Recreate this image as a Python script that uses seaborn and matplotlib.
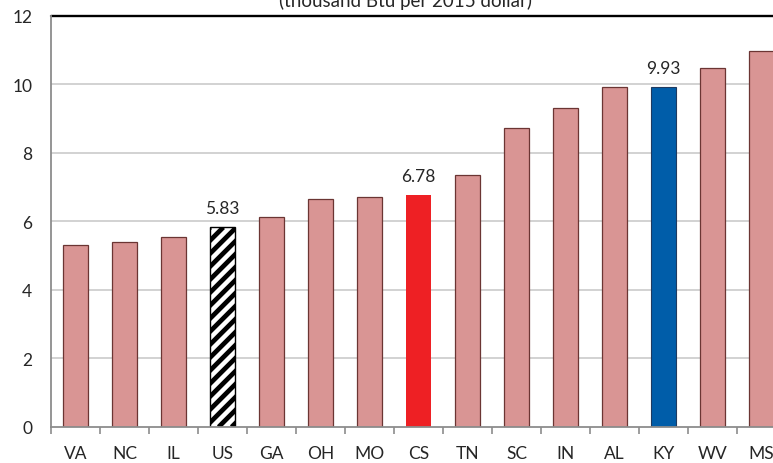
import matplotlib
matplotlib.use("Agg")
import matplotlib.pyplot as plt
from matplotlib.collections import LineCollection
from matplotlib.transforms import IdentityTransform
import seaborn as sns
import numpy as np

states = ["VA", "NC", "IL", "US", "GA", "OH", "MO", "CS", "TN", "SC", "IN", "AL", "KY", "WV", "MS"]
intensity = [5.31, 5.40, 5.55, 5.83, 6.13, 6.65, 6.71, 6.78, 7.36, 8.73, 9.31, 9.92, 9.93, 10.47, 10.98]
labeled = {"US": 5.83, "CS": 6.78, "KY": 9.93}
y_ticks = [0, 2, 4, 6, 8, 10, 12]

PINK = "#D99594"
face = {s: PINK for s in states}
face["US"] = "white"
face["CS"] = "#EE2024"
face["KY"] = "#005DA9"

sns.set_theme(style="white")
plt.rcParams["font.family"] = ["Lato", "DejaVu Sans"]

DPI = 100
fig = plt.figure(figsize=(7.73, 4.64), dpi=DPI)
ax = fig.add_axes([0.066, 0.0776, 0.951, 0.8858])

sns.barplot(x=states, y=intensity, hue=states, palette=face, legend=False,
            width=0.5, ax=ax, saturation=1)

ax.set_xlim(-0.5, len(states) - 0.5)
ax.set_ylim(0, 12)

us_patch = None
for patch, s in zip(ax.patches, states):
    if s == "US":
        us_patch = patch
        patch.set_edgecolor("black")
        patch.set_linewidth(1.0)
    elif s == "CS":
        patch.set_edgecolor("#EE2024")
        patch.set_linewidth(0.0)
    elif s == "KY":
        patch.set_edgecolor("#1F3A60")
        patch.set_linewidth(0.8)
    else:
        patch.set_edgecolor("#6B3533")
        patch.set_linewidth(0.9)
    patch.set_zorder(3)

# wide diagonal stripes for the US bar, clipped to the bar outline
(x0, y0), (x1, y1) = ax.transData.transform(
    [[us_patch.get_x(), 0], [us_patch.get_x() + us_patch.get_width(), us_patch.get_height()]])
period = 13.0
segs = []
h = y1 - y0
start = x0 - h
while start < x1 + period:
    segs.append([(start, y0), (start + h, y1)])
    start += period
stripes = LineCollection(segs, colors="black", linewidths=3.4, transform=IdentityTransform(),
                         zorder=3.5)
ax.add_collection(stripes)
stripes.set_clip_path(us_patch)

for s, v in labeled.items():
    ax.annotate(f"{v:.2f}", (states.index(s), v), xytext=(0, 8),
                textcoords="offset points", ha="center", va="bottom",
                fontsize=12.5, color="#262626")

ax.set_yticks(y_ticks)
ax.set_yticklabels([str(t) for t in y_ticks], fontsize=12.5, color="#262626")
ax.tick_params(axis="y", length=0, pad=13.5)

ax.set_xticks(range(len(states)))
ax.set_xticklabels(states, fontsize=12.5, color="#262626")
ax.tick_params(axis="x", which="major", length=0, pad=13)
ax.set_xticks(np.arange(-0.5, len(states), 1.0), minor=True)
ax.tick_params(axis="x", which="minor", bottom=True, length=5, width=1.2,
               color="#8C8C8C", direction="out")

for t in y_ticks[1:-1]:
    ax.axhline(t, color="#C6C6C6", linewidth=1.1, zorder=1)
ax.axhline(12, color="black", linewidth=1.7, zorder=4, clip_on=False)

for side in ["top", "right"]:
    ax.spines[side].set_visible(False)
for side in ["left", "bottom"]:
    ax.spines[side].set_color("#8C8C8C")
    ax.spines[side].set_linewidth(1.3)
    ax.spines[side].set_zorder(5)

ax.set_xlabel("")
ax.set_ylabel("")

fig.text(0.524, 0.978, "(thousand Btu per 2015 dollar)", ha="center", va="bottom",
         fontsize=13.5, color="#262626")

fig.savefig("out.png", dpi=DPI)
